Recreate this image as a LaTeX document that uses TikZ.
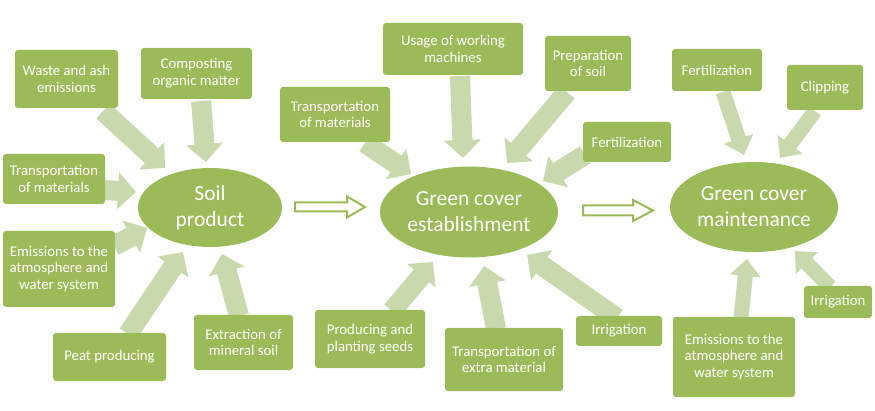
\documentclass[tikz,border=0pt]{standalone}
\usepackage{fontspec}
\setmainfont{Carlito}
\usetikzlibrary{arrows.meta,shapes.geometric}
\definecolor{boxg}{HTML}{9BBB59}
\definecolor{arrg}{HTML}{C9D9AE}
\begin{document}
\begin{tikzpicture}[x=1pt,y=-1pt,
  box/.style={fill=boxg, rounded corners=3pt, text=white, align=center,
    font=\fontsize{14.8}{16.8}\selectfont, inner sep=0pt},
  oval/.style={ellipse, fill=boxg, text=white, align=center,
    font=\fontsize{21.5}{26}\selectfont, inner sep=0pt},
  blk/.style={draw=arrg, line width=20pt, -{Triangle[length=18pt,width=36pt]}},
  blkthin/.style={draw=arrg, line width=15pt, -{Triangle[length=17pt,width=30pt]}},
  hollow/.style={draw=boxg, line width=2pt, fill=white, line join=miter}]
\useasboundingbox (0,0) rectangle (875,411);

% ellipse nodes
\node[oval, minimum width=144pt, minimum height=79pt] (soil) at (210,207.5) {Soil\\product};
\node[oval, minimum width=178pt, minimum height=91pt] (estab) at (469,212) {Green cover\\establishment};
\node[oval, minimum width=168pt, minimum height=90pt] (maint) at (754,207) {Green cover\\maintenance};

% arrow coordinates
\coordinate (s1) at (103,111); \coordinate (t1) at (165,168);
\coordinate (s2) at (201,101); \coordinate (t2) at (206,162);
\coordinate (s3) at (104,190); \coordinate (t3) at (136,192);
\coordinate (s4) at (114,246); \coordinate (t4) at (147,228);
\coordinate (s5) at (128,334); \coordinate (t5) at (183,252);
\coordinate (s6) at (239,316); \coordinate (t6) at (222,254);
\coordinate (s7) at (365,143); \coordinate (t7) at (411,174);
\coordinate (s8) at (460,76);  \coordinate (t8) at (463,158);
\coordinate (s9) at (567,92);  \coordinate (t9) at (507,163);
\coordinate (s10) at (585,155); \coordinate (t10) at (543,181);
\coordinate (s11) at (392,311); \coordinate (t11) at (433,262);
\coordinate (s12) at (496,329); \coordinate (t12) at (484,266);
\coordinate (s13) at (617,318); \coordinate (t13) at (527,255);
\coordinate (s14) at (723,92);  \coordinate (t14) at (744,155);
\coordinate (s15) at (815,111); \coordinate (t15) at (780,158);
\coordinate (s16) at (741,318); \coordinate (t16) at (747,259);
\coordinate (s17) at (830,287); \coordinate (t17) at (795,251);

\draw[blk] (s1) -- (t1);
\draw[blk] (s2) -- (t2);
\draw[blk] (s3) -- (t3);
\draw[blk] (s4) -- (t4);
\draw[blk] (s5) -- (t5);
\draw[blk] (s6) -- (t6);
\draw[blk] (s7) -- (t7);
\draw[blk] (s8) -- (t8);
\draw[blk] (s9) -- (t9);
\draw[blk] (s10) -- (t10);
\draw[blk] (s11) -- (t11);
\draw[blk] (s12) -- (t12);
\draw[blk] (s13) -- (t13);
\draw[blkthin] (s14) -- (t14);
\draw[blkthin] (s15) -- (t15);
\draw[blkthin] (s16) -- (t16);
\draw[blkthin] (s17) -- (t17);

% boxes
\node[box, minimum width=103pt, minimum height=58pt] (waste) at (66.5,79) {Waste and ash\\emissions};
\node[box, minimum width=111pt, minimum height=51pt] (compost) at (196.5,73.5) {Composting\\organic matter};
\node[box, minimum width=102pt, minimum height=50pt] (transL) at (54,179) {Transportation\\of materials};
\node[box, minimum width=112pt, minimum height=76pt] (emisL) at (59,269) {Emissions to the\\atmosphere and\\water system};
\node[box, minimum width=113pt, minimum height=48pt] (peat) at (109.5,357) {Peat producing};
\node[box, minimum width=99pt, minimum height=55pt] (extr) at (243.5,342.5) {Extraction of\\mineral soil};
\node[box, minimum width=140pt, minimum height=52pt] (usage) at (453,49) {Usage of working\\machines};
\node[box, minimum width=110pt, minimum height=55pt] (transM) at (335,114.5) {Transportation\\of materials};
\node[box, minimum width=86pt, minimum height=55pt] (prep) at (588,63.5) {Preparation\\of soil};
\node[box, minimum width=88pt, minimum height=40pt] (fertM) at (627,142) {Fertilization};
\node[box, minimum width=110pt, minimum height=58pt] (seeds) at (370,339) {Producing and\\planting seeds};
\node[box, minimum width=118pt, minimum height=63pt] (transX) at (504,359.5) {Transportation of\\extra material};
\node[box, minimum width=86pt, minimum height=30pt] (irrM) at (619,331) {Irrigation};
\node[box, minimum width=90pt, minimum height=42pt] (fertR) at (717,70) {Fertilization};
\node[box, minimum width=76pt, minimum height=45pt] (clip) at (825,87.5) {Clipping};
\node[box, minimum width=122pt, minimum height=80pt] (emisR) at (734,357) {Emissions to the\\atmosphere and\\water system};
\node[box, minimum width=68pt, minimum height=32pt] (irrR) at (838,302) {Irrigation};

% hollow arrows between stages
\coordinate (h1) at (295,207); \coordinate (h2) at (583,210.5);
\draw[hollow] (h1) ++(0,-4.5) -- ++(52,0) -- ++(0,-6) -- (365,207) -- (347,217.5) -- ++(0,-6) -- (295,211.5) -- cycle;
\draw[hollow] (h2) ++(0,-5) -- ++(50,0) -- ++(0,-5.5) -- (653,210.5) -- (633,221) -- ++(0,-5.5) -- (583,215.5) -- cycle;
\end{tikzpicture}
\end{document}
